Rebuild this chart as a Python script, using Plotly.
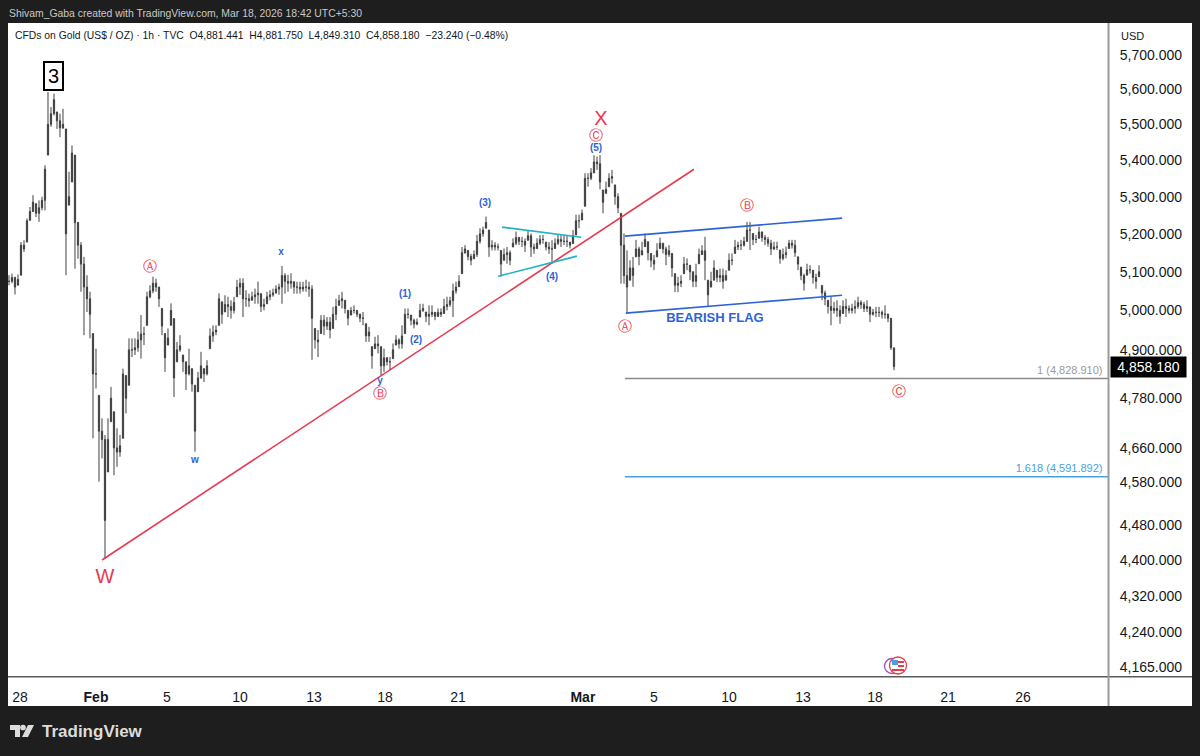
import numpy as np
import plotly.graph_objects as go

# bars, one bar per ~3 hours of the 1h chart
highs = [
    5091, 5095, 5087, 5093, 5178, 5183, 5241, 5272, 5304, 5281,
    5290, 5300, 5386, 5592, 5549, 5587, 5535, 5530, 5544, 5487,
    5368, 5441, 5414, 5232, 5178, 5139, 5091, 5048, 4941, 4903,
    4787, 4731, 4691, 4731, 4808, 4747, 4707, 4691, 4853, 4836,
    4929, 4929, 4929, 4946, 4988, 4958, 5048, 5065, 5087, 5082,
    5061, 5005, 4941, 4954, 5018, 4979, 4920, 4937, 4887, 4870,
    4903, 4853, 4812, 4845, 4895, 4853, 4874, 4954, 4962, 4962,
    5044, 5022, 5039, 5035, 5026, 5035, 5079, 5083, 5083, 5052,
    5043, 5048, 5056, 5074, 5043, 5030, 5048, 5052, 5056, 5065,
    5069, 5115, 5096, 5092, 5096, 5074, 5074, 5074, 5074, 5079,
    5074, 5065, 4954, 4950, 4988, 4988, 4983, 4983, 5009, 5030,
    5040, 5048, 5026, 5000, 5009, 5013, 5000, 4992, 4996, 4966,
    4958, 4908, 4933, 4937, 4908, 4903, 4882, 4882, 4916, 4937,
    4929, 4962, 5005, 5005, 4988, 4979, 4979, 5017, 5017, 4996,
    5013, 5013, 4996, 5005, 5005, 5030, 5035, 5035, 5069, 5074,
    5091, 5165, 5170, 5156, 5147, 5156, 5197, 5215, 5219, 5246,
    5210, 5183, 5178, 5174, 5156, 5161, 5165, 5156, 5188, 5206,
    5192, 5192, 5188, 5210, 5201, 5174, 5188, 5197, 5197, 5178,
    5178, 5183, 5188, 5197, 5197, 5197, 5197, 5178, 5210, 5251,
    5251, 5265, 5364, 5364, 5378, 5414, 5410, 5414, 5318, 5341,
    5364, 5373, 5332, 5309, 5255, 5201, 5156, 5130, 5139, 5184,
    5166, 5179, 5201, 5179, 5148, 5144, 5175, 5190, 5175, 5166,
    5170, 5148, 5095, 5087, 5091, 5139, 5135, 5117, 5100, 5121,
    5161, 5170, 5192, 5078, 5100, 5130, 5104, 5108, 5108, 5104,
    5148, 5148, 5184, 5179, 5184, 5192, 5232, 5232, 5201, 5197,
    5219, 5206, 5197, 5192, 5184, 5179, 5179, 5157, 5161, 5166,
    5184, 5184, 5184, 5139, 5112, 5095, 5121, 5117, 5104, 5095,
    5117, 5064, 5051, 5026, 5035, 5022, 5026, 5013, 5026, 5030,
    5013, 5017, 5026, 5035, 5026, 5022, 5026, 5009, 5004, 5009,
    5009, 5000, 5013, 4992, 4980, 4905,
]
lows = [
    5065, 5070, 5041, 5065, 5091, 5152, 5178, 5236, 5259, 5245,
    5232, 5263, 5263, 5414, 5493, 5525, 5487, 5464, 5487, 5091,
    5277, 5340, 5108, 5134, 5048, 4937, 4996, 4929, 4683, 4804,
    4580, 4635, 4402, 4603, 4723, 4595, 4615, 4639, 4683, 4743,
    4812, 4882, 4887, 4895, 4878, 4912, 4962, 5031, 5044, 5048,
    5009, 4937, 4845, 4912, 4962, 4783, 4870, 4895, 4845, 4800,
    4836, 4796, 4651, 4796, 4828, 4820, 4836, 4903, 4920, 4937,
    4962, 4966, 4996, 4983, 4979, 4992, 5035, 5040, 4983, 5009,
    5009, 5026, 5017, 5017, 4996, 5000, 5017, 5026, 5035, 5043,
    5040, 5017, 5043, 5048, 5056, 5043, 5043, 5043, 5048, 5048,
    5035, 4875, 4903, 4882, 4941, 4937, 4950, 4929, 4954, 4975,
    5013, 5005, 4992, 4962, 4988, 4992, 4983, 4970, 4962, 4920,
    4920, 4853, 4903, 4891, 4837, 4845, 4861, 4849, 4878, 4912,
    4903, 4903, 4941, 4979, 4962, 4954, 4962, 4983, 4996, 4970,
    4962, 4983, 4975, 4983, 4983, 4992, 5000, 5009, 4983, 5043,
    5061, 5095, 5147, 5130, 5117, 5134, 5139, 5174, 5192, 5215,
    5139, 5156, 5156, 5156, 5087, 5130, 5121, 5117, 5165, 5170,
    5170, 5165, 5152, 5183, 5139, 5147, 5161, 5170, 5174, 5156,
    5147, 5121, 5161, 5170, 5165, 5170, 5165, 5161, 5174, 5197,
    5215, 5237, 5274, 5327, 5345, 5364, 5373, 5320, 5255, 5309,
    5327, 5336, 5278, 5255, 5069, 5069, 4992, 5078, 5061, 5139,
    5117, 5144, 5166, 5130, 5112, 5104, 5139, 5161, 5148, 5117,
    5139, 5087, 5047, 5047, 5060, 5095, 5104, 5078, 5060, 5060,
    5121, 5144, 5078, 5009, 5060, 5078, 5073, 5073, 5056, 5078,
    5104, 5117, 5148, 5157, 5157, 5166, 5179, 5157, 5170, 5175,
    5188, 5179, 5170, 5166, 5144, 5157, 5157, 5121, 5130, 5135,
    5161, 5161, 5139, 5104, 5078, 5051, 5091, 5095, 5069, 5056,
    5087, 5026, 5013, 4992, 4962, 4992, 4983, 4966, 4992, 4983,
    4992, 4992, 4992, 5004, 5004, 4996, 4996, 4970, 4987, 4983,
    4983, 4979, 4979, 4970, 4900, 4849,
]
closes = [
    5075, 5085, 5060, 5080, 5170, 5160, 5235, 5260, 5285, 5255,
    5270, 5290, 5375, 5500, 5530, 5570, 5510, 5490, 5500, 5200,
    5300, 5420, 5230, 5170, 5120, 5060, 5030, 4990, 4840, 4840,
    4700, 4680, 4490, 4680, 4780, 4660, 4650, 4665, 4840, 4780,
    4900, 4900, 4905, 4925, 4940, 4940, 5035, 5050, 5070, 5060,
    5030, 4960, 4880, 4930, 5000, 4830, 4900, 4910, 4870, 4840,
    4860, 4815, 4700, 4830, 4860, 4840, 4860, 4935, 4945, 4950,
    5030, 4990, 5015, 5010, 5000, 5020, 5060, 5070, 5030, 5030,
    5025, 5035, 5040, 5045, 5010, 5015, 5035, 5040, 5045, 5055,
    5060, 5090, 5075, 5070, 5075, 5060, 5060, 5055, 5060, 5060,
    5055, 4980, 4925, 4920, 4975, 4960, 4970, 4950, 4990, 5010,
    5025, 5030, 5005, 4980, 5000, 5000, 4990, 4980, 4980, 4935,
    4945, 4885, 4915, 4910, 4860, 4880, 4870, 4870, 4900, 4925,
    4915, 4935, 4990, 4990, 4975, 4965, 4970, 5000, 5005, 4985,
    4990, 4995, 4985, 4995, 4990, 5010, 5015, 5025, 5050, 5060,
    5075, 5150, 5160, 5140, 5130, 5145, 5180, 5200, 5210, 5230,
    5165, 5170, 5165, 5165, 5120, 5145, 5150, 5130, 5175, 5190,
    5180, 5180, 5170, 5195, 5165, 5160, 5175, 5185, 5185, 5165,
    5160, 5160, 5175, 5185, 5180, 5180, 5180, 5170, 5195, 5235,
    5235, 5255, 5350, 5350, 5365, 5395, 5390, 5340, 5285, 5320,
    5350, 5355, 5300, 5270, 5170, 5090, 5060, 5110, 5090, 5160,
    5140, 5155, 5185, 5150, 5130, 5120, 5155, 5175, 5160, 5145,
    5155, 5110, 5065, 5070, 5075, 5120, 5120, 5100, 5075, 5090,
    5145, 5155, 5130, 5040, 5075, 5110, 5085, 5090, 5075, 5090,
    5130, 5130, 5165, 5170, 5170, 5180, 5210, 5210, 5185, 5185,
    5205, 5190, 5185, 5175, 5160, 5165, 5165, 5135, 5145, 5150,
    5175, 5170, 5150, 5120, 5090, 5070, 5105, 5105, 5085, 5075,
    5100, 5045, 5030, 5010, 5000, 5005, 5000, 4985, 5010, 5005,
    5000, 5005, 5010, 5020, 5015, 5005, 5010, 4990, 4995, 4995,
    4995, 4990, 4990, 4980, 4905, 4858,
]
# each bar opens where the last one closed, kept inside its own range
prev = [closes[0]] + closes[:-1]
opens = [min(max(p, lo), hi) for p, lo, hi in zip(prev, lows, highs)]
bars = list(range(len(closes)))

y_ticks = [5700, 5600, 5500, 5400, 5300, 5200, 5100, 5000, 4900, 4780, 4660, 4580, 4480, 4400, 4320, 4240, 4165]
x_ticks = [3.67, 29, 52.67, 77, 101.67, 125.33, 149.67, 191.3, 215, 240, 264.67, 288.67, 313, 338]
x_labels = ["28", "<b>Feb</b>", "5", "10", "13", "18", "21", "<b>Mar</b>", "5", "10", "13", "18", "21", "26"]

# drawn lines: (bar positions, prices)
trend_x, trend_y = [31, 228.3], [4400, 5375]
wedge_up_x, wedge_up_y = [164.3, 190.7], [5218, 5191]
wedge_dn_x, wedge_dn_y = [163, 189.3], [5088, 5141]
flag_up_x, flag_up_y = [205.3, 277.7], [5194, 5242]
flag_dn_x, flag_dn_y = [205.6, 277.7], [4993, 5039]
fib_x = [205.3, 366.33]
fib_1 = 4828.91
fib_1618 = 4591.892
last_price = 4858.18

red_x, red_y, red_text = [32, 197.3], [4360, 5512], ["W", "X"]
circ_x = [47, 123.7, 195.7, 205.3, 246, 296.7]
circ_y = [5110, 4790, 5467, 4957, 5272, 4793]
circ_text = ["Ⓐ", "Ⓑ", "Ⓒ", "Ⓐ", "Ⓑ", "Ⓒ"]
wave_x = [90.7, 62, 123.7, 132, 135.7, 158.7, 181, 195.7]
wave_y = [5151, 4631, 4820, 5042, 4924, 5282, 5086, 5433]
wave_text = ["x", "w", "y", "(1)", "(2)", "(3)", "(4)", "(5)"]

RED = "#e8394f"
BLUE = "#2f62d9"
CYAN = "#1fb3c4"
GREY = "#8a8a8a"
SKY = "#4a9fe3"
INK = "#131722"
DARK = "#1e1e1e"
SANS = "Liberation Sans"

# plot area in window pixels
L, R, T, B = 8, 1108, 23, 677


def px(x):
    return (x - L) / (R - L)


def py(y):
    return (B - y) / (B - T)


def line(x, y, color, width=1.6):
    return go.Scatter(x=x, y=y, mode="lines", line=dict(color=color, width=width), hoverinfo="skip")


def labels(x, y, text, color, size, family=SANS, position="middle center"):
    return go.Scatter(x=x, y=y, text=text, mode="text", textposition=position,
                      textfont=dict(color=color, size=size, family=family), hoverinfo="skip")


fig = go.Figure()
fig.add_trace(go.Candlestick(
    x=bars, open=opens, high=highs, low=lows, close=closes, whiskerwidth=0,
    increasing=dict(line=dict(color="#404040", width=1), fillcolor="#333333"),
    decreasing=dict(line=dict(color="#404040", width=1), fillcolor="#333333"),
))
fig.add_trace(line(trend_x, trend_y, RED))
fig.add_trace(line(wedge_up_x, wedge_up_y, CYAN))
fig.add_trace(line(wedge_dn_x, wedge_dn_y, CYAN))
fig.add_trace(line(flag_up_x, flag_up_y, BLUE))
fig.add_trace(line(flag_dn_x, flag_dn_y, BLUE))
fig.add_trace(line(fib_x, [fib_1, fib_1], GREY, 1.5))
fig.add_trace(line(fib_x, [fib_1618, fib_1618], SKY, 1.5))
fig.add_trace(labels(red_x, red_y, red_text, RED, 20))
fig.add_trace(labels(circ_x, circ_y, circ_text, RED, 14, "DejaVu Sans"))
fig.add_trace(labels(wave_x, wave_y, [f"<b>{t}</b>" for t in wave_text], BLUE, 10))
fig.add_trace(labels([235.3], [4978], ["<b>BEARISH FLAG</b>"], BLUE, 13))
fig.add_trace(labels([364.5], [fib_1 * 1.001], ["1 (4,828.910)"], "#9a9a9a", 11, position="top left"))
fig.add_trace(labels([364.5], [fib_1618 * 1.001], ["1.618 (4,591.892)"], SKY, 11, position="top left"))


def rect(x0, y0, x1, y1, color, layer="above"):
    return dict(type="rect", xref="paper", yref="paper", x0=px(x0), x1=px(x1), y0=py(y0), y1=py(y1),
                fillcolor=color, line_width=0, layer=layer)


def ring(cx, cy, r, color, fill="rgba(0,0,0,0)"):
    return dict(type="circle", xref="paper", yref="paper", x0=px(cx - r), x1=px(cx + r), y0=py(cy + r), y1=py(cy - r),
                fillcolor=fill, line=dict(color=color, width=1.3), layer="above")


def path(points, color):
    d = "M " + " L ".join(f"{px(a):.5f},{py(b):.5f}" for a, b in points) + " Z"
    return dict(type="path", xref="paper", yref="paper", path=d, fillcolor=color, line_width=0, layer="above")


shapes = [
    rect(8, 23, 1192, 706, "white", "below"),
    rect(8, 676, 1192, 677.5, "#5a5a5a"),
    rect(1107.5, 23, 1109.5, 706, "#9a9a9a"),
    # economic event badge
    ring(892, 666, 7.5, "#a04fc0", "white"),
    ring(898, 665.5, 8.5, RED, "white"),
    rect(892, 660, 898, 665, SKY),
    rect(898, 661, 904, 663, RED),
    rect(898, 665, 904, 667, RED),
    rect(892, 669, 904, 671, RED),
    # TradingView logo
    path([(10, 725), (20, 725), (20, 737), (15, 737), (15, 730), (10, 730)], "#dcdcdc"),
    ring(23, 727.5, 2.2, "#dcdcdc", "#dcdcdc"),
    path([(28, 725), (34, 725), (28, 737), (22, 737)], "#dcdcdc"),
]


def note(x, y, text, size, color, **kw):
    return dict(xref="paper", yref="paper", x=px(x), y=py(y), text=text, showarrow=False, xanchor="left",
                yanchor="middle", font=dict(size=size, color=color, family=SANS), **kw)


annotations = [
    note(7, 13, "Shivam_Gaba created with TradingView.com, Mar 18, 2026 18:42 UTC+5:30", 10.4, "#c9c9c9"),
    note(13, 35, "CFDs on Gold (US$ / OZ) · 1h · TVC  O4,881.441  H4,881.750  L4,849.310  C4,858.180  −23.240 (−0.48%)",
         10.35, INK),
    note(1119, 36, "USD", 11, INK),
    note(43, 76, "3", 20, "black", bordercolor="black", borderwidth=2, borderpad=2, bgcolor="white", width=13, height=22),
    note(39.5, 731.5, "<b>TradingView</b>", 17, "#dcdcdc"),
    dict(xref="paper", yref="y", x=px(1109.5), y=float(np.log10(last_price)), text=f"{last_price:,.3f}", showarrow=False,
         xanchor="left", yanchor="middle", bgcolor="black", font=dict(size=14, color="white", family=SANS),
         width=73, height=18),
]

fig.update_layout(
    width=1200,
    height=756,
    margin=dict(l=L, r=1200 - R, t=T, b=756 - B),
    paper_bgcolor=DARK,
    plot_bgcolor="white",
    showlegend=False,
    boxgap=0.42,
    shapes=shapes,
    annotations=annotations,
    font=dict(family=SANS, color=INK, size=14),
    xaxis=dict(range=[-0.33, 366.33], rangeslider_visible=False, showgrid=False, zeroline=False, showline=False,
               tickmode="array", tickvals=x_ticks, ticktext=x_labels, ticks="outside", ticklen=7,
               tickcolor="rgba(0,0,0,0)", tickfont=dict(size=14, color=INK)),
    yaxis=dict(type="log", range=[np.log10(4144), np.log10(5793)], side="right", showgrid=False, zeroline=False,
               showline=False, tickmode="array", tickvals=y_ticks, ticktext=[f"{v:,.3f}" for v in y_ticks],
               ticks="outside", ticklen=8, tickcolor="rgba(0,0,0,0)", tickfont=dict(size=14, color=INK)),
)

fig.write_html("out.html", config=dict(displayModeBar=False), post_script="document.body.style.margin='0';")
